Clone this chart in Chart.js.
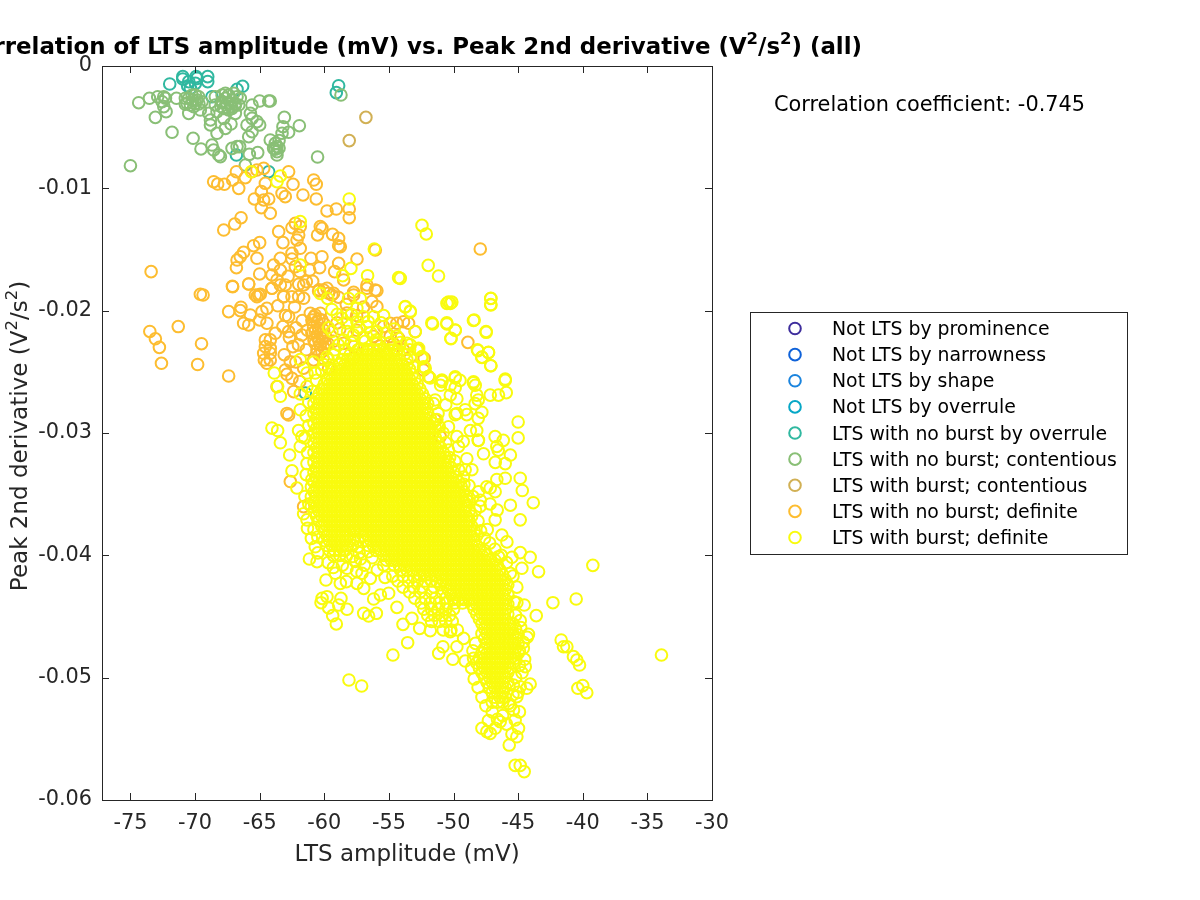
<!DOCTYPE html>
<html>
<head>
<meta charset="utf-8">
<title>LTS amplitude vs peak 2nd derivative</title>
<script src="https://cdn.jsdelivr.net/npm/chart.js@4"></script>
<style>
  html, body { margin: 0; padding: 0; background: #fff; }
  canvas { display: block; }
</style>
</head>
<body>
<canvas id="chart" width="1200" height="900"></canvas>
<script>
/* ── Data ─────────────────────────────────────────── */
const seriesNames = [
  'Not LTS by prominence', 'Not LTS by narrowness', 'Not LTS by shape', 'Not LTS by overrule',
  'LTS with no burst by overrule', 'LTS with no burst; contentious', 'LTS with burst; contentious',
  'LTS with no burst; definite', 'LTS with burst; definite'
];
const xTickValues = [-75, -70, -65, -60, -55, -50, -45, -40, -35, -30];
const yTickValues = [0, -0.01, -0.02, -0.03, -0.04, -0.05, -0.06];

const notProminence = [], notNarrowness = [], notShape = [], notOverrule = [];

const noBurstOverrule = [
  [-70.95,-.00087],[-70.95,-.00106],[-69.92,-.00087],[-69.02,-.00087],[-69.02,-.00128],[-71.96,-.00147],
  [-70.57,-.00163],[-69.97,-.00142],[-70.36,-.00183],[-69.85,-.00101],[-70.49,-.00128],[-66.75,-.00191],
  [-66.32,-.00166],[-68.69,-.00251],[-58.89,-.00161],[-59.07,-.00218],[-66.8,-.00728],[-64.3,-.00864],
  [-61.47,-.02673]
];
const noBurstContentious = [
  [-75,-.00815],[-74.36,-.003],[-73.53,-.00264],[-73.07,-.0042],[-72.89,-.00251],[-72.42,-.00251],[-72.55,-.00292],
  [-72.29,-.00264],[-72.42,-.00332],[-72.24,-.00373],[-71.78,-.00542],[-71.44,-.00264],[-70.75,-.00313],[-70.49,-.00264],
  [-70.36,-.00319],[-70.49,-.00387],[-70.15,-.00591],[-69.97,-.00237],[-69.85,-.00278],[-70.1,-.00332],[-69.59,-.0036],
  [-69.54,-.00678],[-68.94,-.00387],[-68.81,-.00441],[-68.81,-.00482],[-68.69,-.00646],[-68.56,-.00687],[-68.3,-.0055],
  [-68.43,-.00251],[-68.17,-.00728],[-68.04,-.00741],[-67.65,-.00264],[-67.4,-.00237],[-67.53,-.00305],[-67.14,-.00278],
  [-66.75,-.00251],[-66.5,-.00264],[-67.4,-.0036],[-66.88,-.00387],[-67.78,-.00428],[-67.65,-.0051],[-67.22,-.00474],
  [-67.14,-.00673],[-66.75,-.00659],[-66.55,-.00659],[-66.11,-.0081],[-65.8,-.00722],[-65.15,-.00708],[-65.98,-.00482],
  [-65.85,-.00578],[-65.59,-.00537],[-65.59,-.00428],[-65.72,-.00387],[-65.59,-.00319],[-65,-.00286],[-64.3,-.00286],
  [-64.18,-.00286],[-65.21,-.00455],[-65,-.00482],[-63.09,-.0042],[-61.93,-.00488],[-63.2,-.00496],[-62.76,-.00542],
  [-63.27,-.0055],[-64.18,-.00605],[-63.79,-.00632],[-63.66,-.00659],[-63.92,-.00673],[-63.66,-.007],[-63.66,-.00728],
  [-60.52,-.00744],[-58.71,-.00237],[-68,-.0033],[-67.9,-.0029],[-67.2,-.0033],[-66.9,-.0031],[-70.2,-.0028],[-69.7,-.0031],
  [-70.75,-.00264],[-70.23,-.00237],[-69.72,-.00251],[-70.62,-.00305],[-69.97,-.00305],[-69.46,-.00292],[-67.91,-.00237],
  [-67.65,-.00223],[-67.01,-.00223],[-67.91,-.00292],[-67.27,-.00305],[-66.88,-.00319],[-67.78,-.00346],[-67.14,-.00346],
  [-66.62,-.00319],[-68.43,-.00319],[-68.3,-.00373],[-63.5,-.0061],[-63.8,-.0068],[-63.5,-.0067]
];
const burstContentious = [[-56.78,-.0042],[-58.07,-.0061]];

const noBurstDefinite = [
  [-68.56,-.00946],[-68.25,-.00965],[-67.73,-.00967],[-67.09,-.00932],[-66.8,-.00864],[-66.62,-.01],[-66.11,-.00913],
  [-65.59,-.00864],[-65.21,-.0085],[-64.69,-.00837],[-64.56,-.00959],[-62.76,-.00864],[-62.42,-.00967],[-60.82,-.00932],
  [-60.62,-.00967],[-61.65,-.01054],[-60.62,-.01087],[-64.87,-.01027],[-65.41,-.01087],[-64.3,-.01087],[-64.69,-.01095],
  [-64.87,-.01158],[-64.18,-.01204],[-63.27,-.01041],[-63.02,-.01068],[-59.79,-.01185],[-59.07,-.01169],[-66.44,-.0124],
  [-66.93,-.01292],[-67.78,-.01341],[-63.53,-.01354],[-62.5,-.01322],[-62.24,-.01286],[-61.86,-.01313],[-61.98,-.01381],
  [-62.11,-.01422],[-60.31,-.01313],[-60.18,-.01327],[-60.52,-.01381],[-59.36,-.01376],[-58.89,-.01409],[-58.76,-.01477],
  [-58.89,-.01469],[-63.2,-.01444],[-65,-.01444],[-65.47,-.01469],[-66.24,-.01523],[-66.5,-.01559],[-66.75,-.01586],
  [-66.8,-.01649],[-65.21,-.01572],[-61.86,-.0149],[-62.5,-.01531],[-63.4,-.01572],[-63.92,-.01627],[-62.5,-.01578],
  [-62.24,-.0164],[-61.03,-.01572],[-60.18,-.01559],[-61.13,-.01668],[-60.36,-.01649],[-58.89,-.01613],[-57.47,-.01578],
  [-59.2,-.01681],[-58.5,-.01749],[-73.4,-.01681],[-65,-.017],[-64.05,-.01708],[-63.66,-.01749],[-65.85,-.01782],
  [-67.11,-.01801],[-69.59,-.01866],[-63.4,-.0179],[-61.98,-.01785],[-61.39,-.01763],[-64.05,-.01817],[-65.34,-.01872],
  [-64.95,-.01866],[-63.14,-.01886],[-62.5,-.01886],[-61.6,-.01899],[-60.44,-.01839],[-59.79,-.01817],[-59.28,-.01858],
  [-57.73,-.0185],[-56.7,-.0179],[-55.93,-.01837],[-56.05,-.01504],[-66.5,-.02],[-58.07,-.01169],[-58.07,-.0124],
  [-73.5,-.0217],[-73.07,-.0223],[-72.76,-.023],[-72.6,-.0243],[-71.3,-.0213],[-69.5,-.0227],[-69.8,-.0244],
  [-47.93,-.01496],[-48.89,-.02259],
  [-67.09,-.01804],[-65.85,-.01782],[-69.38,-.01872],[-67.4,-.02008],[-66.45,-.01972],[-65.08,-.01872],[-65.21,-.01885],
  [-64.05,-.01817],[-63.15,-.01885],[-63.02,-.0179],[-61.99,-.01885],[-61.6,-.0179],[-64.44,-.01981],[-64.82,-.02008],
  [-65.72,-.02035],[-66.24,-.02103],[-65.85,-.02117],[-65,-.02076],[-64.44,-.02103],[-62.76,-.02049],[-63.79,-.02185],
  [-62.76,-.02171],[-62.43,-.02294],[-61.73,-.02199],[-64.56,-.02239],[-64.18,-.02239],[-64.56,-.02294],[-64.18,-.02308],
  [-64.69,-.02348],[-64.18,-.02348],[-64.64,-.02403],[-64.18,-.02403],[-64.44,-.0243],[-67.4,-.02534],[-62.63,-.02417],
  [-63.02,-.02485],[-62.5,-.02553],[-63.66,-.02621],[-62.37,-.02662],[-62.76,-.02853],[-62.89,-.0284],[-62.63,-.03397],
  [-61.6,-.03602],
  [-61.08,-.02021],[-60.7,-.02035],[-60.31,-.02021],[-60.96,-.02076],[-60.57,-.0209],[-60.18,-.02076],[-60.83,-.02131],
  [-60.44,-.02144],[-60.05,-.02158],[-60.96,-.02185],[-60.57,-.02212],[-60.18,-.02226],[-60.7,-.02267],[-60.31,-.0228],
  [-59.93,-.02267],[-60.57,-.02321],[-60.18,-.02335],[-60.8,-.0205],[-60.4,-.0207],[-60,-.0211],[-60.7,-.0217],
  [-60.3,-.0219],[-59.9,-.0221],[-60.8,-.0224],[-60.4,-.0225],[-60,-.0231],[-59.7,-.0227],[-60.4,-.0236],[-60.1,-.0239],
  [-59.67,-.01858],[-60.05,-.01831],[-59.41,-.01872],[-57.73,-.01872],[-56.7,-.01817],[-56.06,-.01831],[-56.32,-.01926],
  [-55.93,-.01967],[-54.9,-.02103],[-54.38,-.02103],[-53.87,-.0209],[-53.48,-.02103],[-52.97,-.02171],[-54.25,-.02226],
  [-52.71,-.02321],[-52.27,-.02389],[-52.32,-.02485],[-51.94,-.02539],[-58.51,-.02267],[-57.73,-.02294],[-57.73,-.02389],
  [-59.67,-.0247],[-60.83,-.02403],[-51.42,-.02893],[-51.03,-.0303],
  [-57.48,-.0216],[-56.19,-.0221],[-59.02,-.021],[-58.25,-.0202],[-56.96,-.0197],[-55.41,-.0213],[-54.9,-.0221],
  [-56.7,-.0232],[-55.67,-.0229],[-54.64,-.0227],[-53.87,-.0232],[-53.35,-.0238],
  [-63.6,-.0196],[-63,-.0204],[-62.3,-.0197],[-61.7,-.0208],[-62.2,-.0214],[-61.3,-.0216],[-63.2,-.0213],[-62.7,-.0222],
  [-62,-.0228],[-61.4,-.0232],[-63.1,-.0236],[-62.2,-.0242],[-61.6,-.0247],[-62.9,-.0252],[-61.9,-.0258],[-63.4,-.0167],
  [-62.8,-.0172],[-61.9,-.0168],[-60.9,-.0176],[-60.4,-.0183],[-58.9,-.0189],[-58.3,-.0195],[-57.5,-.0204],[-58.8,-.0215],
  [-59.3,-.0225]
];

// burst; definite: the points that can be told apart at the rim and in the sparse parts
const burstDefiniteRim = [
  [-65.65,-.00864],[-63.66,-.00946],[-63.4,-.00899],[-58.07,-.01087],[-61.86,-.01272],[-61.86,-.01627],[-56.13,-.01496],
  [-58.58,-.01714],[-57.94,-.01654],[-56.65,-.01714],[-54.25,-.0173],
  [-52.44,-.01303],[-52.11,-.01373],[-51.96,-.0163],[-51.16,-.01717],[-54.12,-.01736],[-50.51,-.0194],[-50.25,-.0194],
  [-47.11,-.01899],[-47.11,-.01954],[-48.4,-.02076],[-51.62,-.02109],[-50.51,-.02109],[-49.87,-.02158],[-50.2,-.02226],
  [-47.47,-.02177],[-48.11,-.02327],[-47.29,-.02343],[-47.8,-.02382],[-47.11,-.0245],[-46,-.02559],[-49.87,-.0254],
  [-48.45,-.02581],[-50.9,-.02567],[-53.73,-.01967],[-53.35,-.02003],[-52.96,-.02172],[-52.7,-.02308],[-52.44,-.02376],
  [-52.32,-.02458],[-51.93,-.0254],[-53.6,-.02267],
  [-60.31,-.0186],[-59.74,-.019],[-59.41,-.0199],[-58.64,-.0206],[-58.12,-.019],[-57.22,-.019],[-57.48,-.0198],
  [-56.96,-.0205],[-56.19,-.0205],[-55.41,-.0204],[-53.74,-.0197],[-53.35,-.0201],[-51.68,-.021],[-50.52,-.021],
  [-49.87,-.0216],[-50.2,-.0223],[-48.46,-.0208],[-47.48,-.0217],[-50.39,-.0193],[-50.13,-.0193],[-47.12,-.019],
  [-47.12,-.0195],[-48.15,-.0232],[-47.3,-.0234],[-47.81,-.0238],[-47.12,-.0245],[-59.67,-.0214],[-59.41,-.0217],
  [-58.51,-.0224],[-55.93,-.0217],[-54.38,-.0221],[-53.35,-.0228],[-52.84,-.0232],[-52.45,-.0239],[-52.19,-.0247],
  [-51.81,-.0255],[-50.9,-.0258],[-49.87,-.0255],[-50.26,-.0261],[-49.87,-.0263],[-48.46,-.0259],[-48.2,-.0269],
  [-49.74,-.0272],[-48.33,-.0276],[-47.81,-.0283],[-49.74,-.0284],[-48.97,-.0285],[-51.42,-.0273],[-51.55,-.0276],
  [-51.29,-.0289],[-50.39,-.0295],[-49.74,-.0303],[-48.2,-.0298],[-46.78,-.0303],[-48.07,-.0306],[-50.39,-.0314],
  [-49.62,-.0311],[-47.68,-.0317],[-48.97,-.0321],[-49.1,-.033],[-48.58,-.033],[-49.23,-.0336],[-48.97,-.0355],
  [-48.07,-.0348],[-47.43,-.0344],[-46.78,-.0348],[-46.65,-.0338],[-47.94,-.036],[-47.17,-.0358],[-46.78,-.0371],
  [-46.65,-.0311],[-46.52,-.0269],
  [-63.87,-.0251],[-63.61,-.0262],[-63.4,-.027],[-64.05,-.0296],[-63.61,-.0298],[-63.4,-.0308],[-62.68,-.0318],
  [-62.5,-.0331],[-62.12,-.0345],[-61.86,-.0281],[-61.99,-.0298],[-61.73,-.0303],[-61.86,-.0268],[-61.34,-.0251],
  [-60.7,-.0251],[-60.83,-.0242],[-61.86,-.024],[-59.8,-.0238],[-61.34,-.0262],[-61.6,-.0366],[-61.34,-.0371],
  [-60.96,-.0338],[-61.34,-.0325],[-61.86,-.0311],
  [-58.25,-.021],[-57.48,-.0209],[-56.7,-.0213],[-57.73,-.022],[-56.83,-.0225],[-55.93,-.0227],[-55.16,-.0235],
  [-54.38,-.0233],[-53.61,-.024],[-53.1,-.0246],[-58.77,-.0243],[-60.05,-.0244],[-59.28,-.0236],
  [-45,-.0291],[-46,-.0257],[-45.92,-.0267],[-44.84,-.0337],[-44.68,-.0347],[-43.83,-.0357],[-45.6,-.0318],[-46,-.0325],
  [-46.15,-.0306],[-45,-.0304],[-46,-.0337],[-45.6,-.0359],[-46.54,-.0314],[-46.77,-.0324],[-47.16,-.0345],[-47.93,-.0355],
  [-46.62,-.0363],[-44.84,-.0371],[-47.39,-.0379],[-48.09,-.0273],[-47.16,-.0269],[-48.32,-.0261],[-49.1,-.0281],
  [-48.09,-.0288],[-48.7,-.0298],[-49.25,-.0307],[-48.09,-.0306],[-49.87,-.0285],[-50.25,-.0269],[-49.5,-.0257],
  [-51,-.0261],[-50.6,-.0277],
  [-61,-.03861],[-61.15,-.0403],[-60.56,-.04052],[-59.87,-.04202],[-59.14,-.04147],[-58.24,-.04106],[-58.76,-.04229],
  [-58.29,-.04215],[-60.17,-.04352],[-59.79,-.04338],[-60.25,-.04387],[-59.66,-.0443],[-58.71,-.04352],[-58.89,-.04406],
  [-58.24,-.04441],[-59.35,-.04493],[-59.07,-.04561],[-57.08,-.04147],[-57.47,-.04229],[-56.95,-.0427],[-56.44,-.04188],
  [-56.18,-.04357],[-55.66,-.04324],[-55.02,-.0431],[-56.95,-.04474],[-56.57,-.04496],[-55.97,-.04474],[-54.38,-.04425],
  [-53.91,-.04564],[-53.22,-.04515],[-52.62,-.04597],[-51.8,-.04616],[-53.55,-.04714],[-54.69,-.04815],[-51.15,-.04801],
  [-50.82,-.04747],[-50.05,-.0485],[-49.74,-.04747],[-49.22,-.04679],[-50.25,-.04624],[-49.09,-.04864],[-48.45,-.04842],
  [-58.09,-.05019],[-57.11,-.05068],[-39.22,-.04082],[-43.42,-.04134],[-44.07,-.04016],[-44.84,-.03978],[-45.48,-.04016],
  [-44.71,-.04106],[-45.87,-.0389],[-46.26,-.03834],[-46.52,-.04011],[-45.61,-.04147],[-45.1,-.04387],[-44.53,-.04406],
  [-42.31,-.04387],[-40.51,-.04357],[-43.6,-.04493],[-44.84,-.04534],[-44.2,-.04646],[-41.67,-.04692],[-41.23,-.04747],
  [-41.49,-.04747],[-40.72,-.04828],[-40.46,-.04856],[-40.25,-.04897],[-40.38,-.05087],[-40,-.05065],[-39.69,-.05123],
  [-33.91,-.04815],[-44.45,-.0491],[-44.07,-.05052],[-44.33,-.05087],[-44.84,-.05074],[-45.36,-.0506],[-45.1,-.05155],
  [-45.74,-.0521],[-45.36,-.05264],[-45.23,-.05346],[-44.97,-.05414],[-45.1,-.05483],[-45.48,-.0546],[-45.69,-.05551],
  [-45.23,-.05717],[-44.84,-.05717],[-44.53,-.05768],[-47.8,-.05414],[-47.16,-.05455],[-47.42,-.05441],[-46.77,-.05414],
  [-46.39,-.0536],
  [-54.1,-.0412],[-54.7,-.0417],[-53.9,-.0417],[-53.1,-.0417],[-54.3,-.0421],[-53.5,-.0421],[-52.8,-.0421],[-52.2,-.0421],
  [-51.7,-.0421],[-51.3,-.0421],[-53.9,-.0426],[-53.1,-.0426],[-52.4,-.0426],[-51.5,-.0426],[-53.4,-.043],[-52.6,-.043],
  [-51.7,-.043],[-50.9,-.043],[-53,-.0435],[-52.2,-.0435],[-51.4,-.0435],[-50.6,-.0435],[-52.5,-.0439],[-51.8,-.0439],
  [-51.1,-.0439],[-50.5,-.0439],[-49.9,-.0439],[-49.3,-.0439],[-52.3,-.0444],[-51.7,-.0444],[-51.2,-.0444],[-50.6,-.0444],
  [-50,-.0444],[-52,-.0449],[-51.5,-.0449],[-50.9,-.0449],[-50.3,-.0449],[-51.7,-.0454],[-51.1,-.0454],[-50.6,-.0454],
  [-50.1,-.0454],[-50.8,-.0461],[-50.2,-.0461],[-49.7,-.0461],
  [-45,-.0465],[-44.6,-.0471],[-44.9,-.0478],[-44.5,-.0485],[-44.7,-.0496],[-44.3,-.0467],[-45,-.0512],[-44.9,-.0528],
  [-57.8,-.0392],[-57.3,-.0398],[-57.6,-.0405],[-56.9,-.0408],[-56.3,-.0402],[-55.9,-.0412],[-55.4,-.0408],[-55.3,-.0418],
  [-58.9,-.0228],[-58.2,-.0217],[-57.9,-.0226],[-57.3,-.0214],[-57,-.0222],[-56.6,-.0209],[-56.4,-.0218],[-56,-.0224],
  [-55.6,-.021],[-55.2,-.0218],[-54.9,-.0226],[-54.6,-.0215],[-54.1,-.0226],[-53.8,-.0236],[-53.4,-.0232],[-58.4,-.0232],
  [-59.2,-.0232],[-59.7,-.024],[-60.2,-.0249],[-60.6,-.0257],[-60.9,-.0266],[-59,-.0203],[-57.9,-.0203],
  [-61.2,-.0275],[-61.4,-.0286],[-61.2,-.0294],[-61.5,-.0304],[-61.3,-.0316],[-61.4,-.0334],[-61.5,-.0352],[-61.2,-.0358],
  [-61.3,-.0378],[-60.8,-.0379],[-60.5,-.0385],[-60.7,-.0393],[-60.5,-.0398],
  [-59.3,-.04],[-58.8,-.04],[-58.3,-.0401],[-59.7,-.0406],[-58.6,-.0408],[-57.8,-.0401],[-57.5,-.0413],[-59.3,-.041],
  [-57.2,-.0403],[-56.6,-.0397],[-57.4,-.0388],[-57.7,-.038],[-57.7,-.0387],[-57.4,-.0393],
  [-51.2,-.0284],[-51.1,-.0295],[-50.8,-.03],[-50.6,-.0308],[-50.3,-.032],[-49.9,-.0323],[-49.6,-.033],[-49.2,-.0342],
  [-48.8,-.0343],[-48.5,-.0352],[-48.3,-.0363],[-48.1,-.0372],[-47.9,-.038],[-47.6,-.0386],[-47.2,-.039],[-46.8,-.0395],
  [-46.3,-.04],[-45.9,-.0406],[-45.4,-.0417],[-45.1,-.0426],[-45.3,-.0438],[-45.2,-.0449],
  [-48.3,-.0472],[-48.5,-.0478],[-48.6,-.0492],[-48.4,-.0501],[-48.1,-.0508],[-47.8,-.0516],[-47.5,-.0523],[-44.8,-.0459],
  [-44.6,-.0476],[-44.9,-.049],[-45.2,-.05],[-45.4,-.0514],[-45.6,-.0523],[-47,-.0528],[-46.6,-.0534],[-46.2,-.0531],
  [-45.9,-.0538],[-47.3,-.0535]
];

// the solid part of the cloud, where single circles cannot be told apart: one y, then the x values along it
const burstDefiniteRows = [
  [-.0232,[-57.4,-57,-56.6,-56.2,-55.8,-55.4,-55,-54.6]],
  [-.0236,[-58,-57.6,-57.2,-56.8,-56.4,-56,-55.6,-55.2,-54.8,-54.4]],
  [-.024,[-58.6,-58.2,-57.8,-57.4,-57,-56.6,-56.2,-55.8,-55.4,-55,-54.6,-54.2]],
  [-.0244,[-58.8,-58.4,-58,-57.6,-57.2,-56.8,-56.4,-56,-55.6,-55.2,-54.8,-54.4,-54,-53.6]],
  [-.0248,[-59.4,-59,-58.6,-58.2,-57.8,-57.4,-57,-56.6,-56.2,-55.8,-55.4,-55,-54.6,-54.2,-53.8,-53.4]],
  [-.0252,[-59.6,-59.2,-58.8,-58.4,-58,-57.6,-57.2,-56.8,-56.4,-56,-55.6,-55.2,-54.8,-54.4,-54,-53.6,-53.2]],
  [-.0256,[-59.8,-59.4,-59,-58.6,-58.2,-57.8,-57.4,-57,-56.6,-56.2,-55.8,-55.4,-55,-54.6,-54.2,-53.8,-53.4,-53]],
  [-.026,[-60,-59.6,-59.2,-58.8,-58.4,-58,-57.6,-57.2,-56.8,-56.4,-56,-55.6,-55.2,-54.8,-54.4,-54,-53.6,-53.2,-52.8]],
  [-.0264,[-60.2,-59.8,-59.4,-59,-58.6,-58.2,-57.8,-57.4,-57,-56.6,-56.2,-55.8,-55.4,-55,-54.6,-54.2,-53.8,-53.4,-53,-52.6]],
  [-.0268,[-60.4,-60,-59.6,-59.2,-58.8,-58.4,-58,-57.6,-57.2,-56.8,-56.4,-56,-55.6,-55.2,-54.8,-54.4,-54,-53.6,-53.2,-52.8,-52.4]],
  [-.0272,[-60.6,-60.2,-59.8,-59.4,-59,-58.6,-58.2,-57.8,-57.4,-57,-56.6,-56.2,-55.8,-55.4,-55,-54.6,-54.2,-53.8,-53.4,-53,-52.6,-52.2]],
  [-.0276,[-60.8,-60.4,-60,-59.6,-59.2,-58.8,-58.4,-58,-57.6,-57.2,-56.8,-56.4,-56,-55.6,-55.2,-54.8,-54.4,-54,-53.6,-53.2,-52.8,-52.4,-52]],
  [-.028,[-60.6,-60.2,-59.8,-59.4,-59,-58.6,-58.2,-57.8,-57.4,-57,-56.6,-56.2,-55.8,-55.4,-55,-54.6,-54.2,-53.8,-53.4,-53,-52.6,-52.2]],
  [-.0284,[-60.8,-60.4,-60,-59.6,-59.2,-58.8,-58.4,-58,-57.6,-57.2,-56.8,-56.4,-56,-55.6,-55.2,-54.8,-54.4,-54,-53.6,-53.2,-52.8,-52.4,-52]],
  [-.0288,[-60.6,-60.2,-59.8,-59.4,-59,-58.6,-58.2,-57.8,-57.4,-57,-56.6,-56.2,-55.8,-55.4,-55,-54.6,-54.2,-53.8,-53.4,-53,-52.6,-52.2,-51.8]],
  [-.0292,[-60.8,-60.4,-60,-59.6,-59.2,-58.8,-58.4,-58,-57.6,-57.2,-56.8,-56.4,-56,-55.6,-55.2,-54.8,-54.4,-54,-53.6,-53.2,-52.8,-52.4,-52,-51.6]],
  [-.0296,[-60.6,-60.2,-59.8,-59.4,-59,-58.6,-58.2,-57.8,-57.4,-57,-56.6,-56.2,-55.8,-55.4,-55,-54.6,-54.2,-53.8,-53.4,-53,-52.6,-52.2,-51.8,-51.4]],
  [-.03,[-60.8,-60.4,-60,-59.6,-59.2,-58.8,-58.4,-58,-57.6,-57.2,-56.8,-56.4,-56,-55.6,-55.2,-54.8,-54.4,-54,-53.6,-53.2,-52.8,-52.4,-52,-51.6]],
  [-.0304,[-60.6,-60.2,-59.8,-59.4,-59,-58.6,-58.2,-57.8,-57.4,-57,-56.6,-56.2,-55.8,-55.4,-55,-54.6,-54.2,-53.8,-53.4,-53,-52.6,-52.2,-51.8,-51.4]],
  [-.0308,[-60.8,-60.4,-60,-59.6,-59.2,-58.8,-58.4,-58,-57.6,-57.2,-56.8,-56.4,-56,-55.6,-55.2,-54.8,-54.4,-54,-53.6,-53.2,-52.8,-52.4,-52,-51.6,-51.2]],
  [-.0312,[-60.6,-60.2,-59.8,-59.4,-59,-58.6,-58.2,-57.8,-57.4,-57,-56.6,-56.2,-55.8,-55.4,-55,-54.6,-54.2,-53.8,-53.4,-53,-52.6,-52.2,-51.8,-51.4,-51]],
  [-.0316,[-60.8,-60.4,-60,-59.6,-59.2,-58.8,-58.4,-58,-57.6,-57.2,-56.8,-56.4,-56,-55.6,-55.2,-54.8,-54.4,-54,-53.6,-53.2,-52.8,-52.4,-52,-51.6,-51.2,-50.8]],
  [-.032,[-60.6,-60.2,-59.8,-59.4,-59,-58.6,-58.2,-57.8,-57.4,-57,-56.6,-56.2,-55.8,-55.4,-55,-54.6,-54.2,-53.8,-53.4,-53,-52.6,-52.2,-51.8,-51.4,-51,-50.6]],
  [-.0324,[-60.8,-60.4,-60,-59.6,-59.2,-58.8,-58.4,-58,-57.6,-57.2,-56.8,-56.4,-56,-55.6,-55.2,-54.8,-54.4,-54,-53.6,-53.2,-52.8,-52.4,-52,-51.6,-51.2,-50.8,-50.4]],
  [-.0328,[-60.6,-60.2,-59.8,-59.4,-59,-58.6,-58.2,-57.8,-57.4,-57,-56.6,-56.2,-55.8,-55.4,-55,-54.6,-54.2,-53.8,-53.4,-53,-52.6,-52.2,-51.8,-51.4,-51,-50.6,-50.2]],
  [-.0332,[-60.8,-60.4,-60,-59.6,-59.2,-58.8,-58.4,-58,-57.6,-57.2,-56.8,-56.4,-56,-55.6,-55.2,-54.8,-54.4,-54,-53.6,-53.2,-52.8,-52.4,-52,-51.6,-51.2,-50.8,-50.4,-50]],
  [-.0336,[-60.6,-60.2,-59.8,-59.4,-59,-58.6,-58.2,-57.8,-57.4,-57,-56.6,-56.2,-55.8,-55.4,-55,-54.6,-54.2,-53.8,-53.4,-53,-52.6,-52.2,-51.8,-51.4,-51,-50.6,-50.2,-49.8]],
  [-.034,[-60.8,-60.4,-60,-59.6,-59.2,-58.8,-58.4,-58,-57.6,-57.2,-56.8,-56.4,-56,-55.6,-55.2,-54.8,-54.4,-54,-53.6,-53.2,-52.8,-52.4,-52,-51.6,-51.2,-50.8,-50.4,-50,-49.6]],
  [-.0344,[-61,-60.6,-60.2,-59.8,-59.4,-59,-58.6,-58.2,-57.8,-57.4,-57,-56.6,-56.2,-55.8,-55.4,-55,-54.6,-54.2,-53.8,-53.4,-53,-52.6,-52.2,-51.8,-51.4,-51,-50.6,-50.2,-49.8,-49.4]],
  [-.0348,[-60.8,-60.4,-60,-59.6,-59.2,-58.8,-58.4,-58,-57.6,-57.2,-56.8,-56.4,-56,-55.6,-55.2,-54.8,-54.4,-54,-53.6,-53.2,-52.8,-52.4,-52,-51.6,-51.2,-50.8,-50.4,-50,-49.6,-49.2]],
  [-.0352,[-61,-60.6,-60.2,-59.8,-59.4,-59,-58.6,-58.2,-57.8,-57.4,-57,-56.6,-56.2,-55.8,-55.4,-55,-54.6,-54.2,-53.8,-53.4,-53,-52.6,-52.2,-51.8,-51.4,-51,-50.6,-50.2,-49.8,-49.4,-49]],
  [-.0356,[-60.8,-60.4,-60,-59.6,-59.2,-58.8,-58.4,-58,-57.6,-57.2,-56.8,-56.4,-56,-55.6,-55.2,-54.8,-54.4,-54,-53.6,-53.2,-52.8,-52.4,-52,-51.6,-51.2,-50.8,-50.4,-50,-49.6,-49.2,-48.8]],
  [-.036,[-61,-60.6,-60.2,-59.8,-59.4,-59,-58.6,-58.2,-57.8,-57.4,-57,-56.6,-56.2,-55.8,-55.4,-55,-54.6,-54.2,-53.8,-53.4,-53,-52.6,-52.2,-51.8,-51.4,-51,-50.6,-50.2,-49.8,-49.4,-49]],
  [-.0364,[-60.8,-60.4,-60,-59.6,-59.2,-58.8,-58.4,-58,-57.6,-57.2,-56.8,-56.4,-56,-55.6,-55.2,-54.8,-54.4,-54,-53.6,-53.2,-52.8,-52.4,-52,-51.6,-51.2,-50.8,-50.4,-50,-49.6,-49.2,-48.8]],
  [-.0368,[-60.6,-60.2,-59.8,-59.4,-59,-58.6,-58.2,-57.8,-57.4,-57,-56.6,-56.2,-55.8,-55.4,-55,-54.6,-54.2,-53.8,-53.4,-53,-52.6,-52.2,-51.8,-51.4,-51,-50.6,-50.2,-49.8,-49.4,-49,-48.6]],
  [-.0372,[-60.4,-60,-59.6,-59.2,-58.8,-58.4,-58,-57.6,-57.2,-56.8,-56.4,-56,-55.6,-55.2,-54.8,-54.4,-54,-53.6,-53.2,-52.8,-52.4,-52,-51.6,-51.2,-50.8,-50.4,-50,-49.6,-49.2,-48.8]],
  [-.0376,[-60.2,-59.8,-59.4,-59,-58.6,-58.2,-57.8,-57.4,-57,-56.6,-56.2,-55.8,-55.4,-55,-54.6,-54.2,-53.8,-53.4,-53,-52.6,-52.2,-51.8,-51.4,-51,-50.6,-50.2,-49.8,-49.4,-49,-48.6]],
  [-.038,[-60,-59.6,-59.2,-58.8,-58.4,-58,-57.6,-57.2,-56.8,-56.4,-56,-55.6,-55.2,-54.8,-54.4,-54,-53.6,-53.2,-52.8,-52.4,-52,-51.6,-51.2,-50.8,-50.4,-50,-49.6,-49.2,-48.8,-48.4]],
  [-.0384,[-59.8,-59.4,-59,-58.6,-58.2,-57,-56.6,-56.2,-55.8,-55.4,-55,-54.6,-54.2,-53.8,-53.4,-53,-52.6,-52.2,-51.8,-51.4,-51,-50.6,-50.2,-49.8,-49.4,-49,-48.6,-48.2]],
  [-.0388,[-60,-59.6,-59.2,-58.8,-58.4,-58,-56.8,-56.4,-56,-55.6,-55.2,-54.8,-54.4,-54,-53.6,-53.2,-52.8,-52.4,-52,-51.6,-51.2,-50.8,-50.4,-50,-49.6,-49.2,-48.8,-48.4]],
  [-.0392,[-59.8,-59.4,-59,-58.6,-58.2,-56.6,-56.2,-55.8,-55.4,-55,-54.6,-54.2,-53.8,-53.4,-53,-52.6,-52.2,-51.8,-51.4,-51,-50.6,-50.2,-49.8,-49.4,-49,-48.6,-48.2]],
  [-.0396,[-59.6,-59.2,-58.8,-58.4,-56,-55.6,-55.2,-54.8,-54.4,-54,-53.6,-53.2,-52.8,-52.4,-52,-51.6,-51.2,-50.8,-50.4,-50,-49.6,-49.2,-48.8,-48.4,-48,-47.6]],
  [-.04,[-55.4,-55,-54.6,-54.2,-53.8,-53.4,-53,-52.6,-52.2,-51.8,-51.4,-51,-50.6,-50.2,-49.8,-49.4,-49,-48.6,-48.2,-47.8,-47.4]],
  [-.0404,[-55.2,-54.8,-54.4,-54,-53.6,-53.2,-52.8,-52.4,-52,-51.6,-51.2,-50.8,-50.4,-50,-49.6,-49.2,-48.8,-48.4,-48,-47.6,-47.2,-46.8]],
  [-.0408,[-54.6,-54.2,-53.8,-53.4,-53,-52.6,-52.2,-51.8,-51.4,-51,-50.6,-50.2,-49.8,-49.4,-49,-48.6,-48.2,-47.8,-47.4,-47,-46.6]],
  [-.0412,[-53.6,-53.2,-52.8,-52.4,-52,-51.6,-51.2,-50.8,-50.4,-50,-49.6,-49.2,-48.8,-48.4,-48,-47.6,-47.2,-46.8,-46.4]],
  [-.0416,[-52.6,-52.2,-51.8,-51.4,-51,-50.6,-50.2,-49.8,-49.4,-49,-48.6,-48.2,-47.8,-47.4,-47,-46.6,-46.2]],
  [-.042,[-50.8,-50.4,-50,-49.6,-49.2,-48.8,-48.4,-48,-47.6,-47.2,-46.8,-46.4,-46]],
  [-.0424,[-51,-50.6,-50.2,-49.8,-49.4,-49,-48.6,-48.2,-47.8,-47.4,-47,-46.6,-46.2,-45.8]],
  [-.0428,[-50.4,-50,-49.6,-49.2,-48.8,-48.4,-48,-47.6,-47.2,-46.8,-46.4,-46]],
  [-.0432,[-50.2,-49.8,-49.4,-49,-48.6,-48.2,-47.8,-47.4,-47,-46.6,-46.2,-45.8]],
  [-.0436,[-50,-49.6,-49.2,-48.8,-48.4,-48,-47.6,-47.2,-46.8,-46.4,-46]],
  [-.044,[-48.6,-48.2,-47.8,-47.4,-47,-46.6,-46.2,-45.8]],
  [-.0444,[-48.4,-48,-47.6,-47.2,-46.8,-46.4,-46]],
  [-.0448,[-48.2,-47.8,-47.4,-47,-46.6,-46.2,-45.8]],
  [-.0452,[-48,-47.6,-47.2,-46.8,-46.4,-46]],
  [-.0456,[-47.8,-47.4,-47,-46.6,-46.2,-45.8,-45.4]],
  [-.046,[-47.6,-47.2,-46.8,-46.4,-46,-45.6,-45.2]],
  [-.0464,[-47.8,-47.4,-47,-46.6,-46.2,-45.8,-45.4]],
  [-.0468,[-47.6,-47.2,-46.8,-46.4,-46,-45.6,-45.2]],
  [-.0472,[-47.4,-47,-46.6,-46.2,-45.8,-45.4,-45]],
  [-.0476,[-47.6,-47.2,-46.8,-46.4,-46,-45.6,-45.2]],
  [-.048,[-47.8,-47.4,-47,-46.6,-46.2,-45.8,-45.4,-45]],
  [-.0484,[-48,-47.6,-47.2,-46.8,-46.4,-46,-45.6,-45.2]],
  [-.0488,[-48.2,-47.8,-47.4,-47,-46.6,-46.2,-45.8,-45.4]],
  [-.0492,[-48,-47.6,-47.2,-46.8,-46.4,-46,-45.6]],
  [-.0496,[-47.8,-47.4,-47,-46.6,-46.2,-45.8]],
  [-.05,[-47.6,-47.2,-46.8,-46.4,-46]],
  [-.0504,[-47.4,-47,-46.6,-46.2,-45.8]],
  [-.0508,[-47.2,-46.8,-46.4,-46]],
  [-.0512,[-47,-46.6,-46.2]],
  [-.0516,[-46.8,-46.4,-46]],
  [-.052,[-47,-46.6,-46.2]]
];
const burstDefinite = burstDefiniteRim.concat(
  burstDefiniteRows.flatMap(([y, xs]) => xs.map(x => [x, y]))
);

const correlationText = 'Correlation coefficient: -0.745';
const titleParts = ['Correlation of LTS amplitude (mV) vs. Peak 2nd derivative (V', '^2', '/s', '^2', ') (all)'];
const yLabelParts = ['Peak 2nd derivative (V', '^2', '/s', '^2', ')'];

const seriesValues = [notProminence, notNarrowness, notShape, notOverrule, noBurstOverrule,
  noBurstContentious, burstContentious, noBurstDefinite, burstDefinite];
const seriesColors = ['#3e2d9c', '#0f62d9', '#1a84de', '#06a7c6', '#30b8a0', '#89bf76', '#d1b054', '#fdbd30', '#f9fb0e'];

/* ── Helpers ──────────────────────────────────────── */
const FONT = '"DejaVu Sans"';
const INK = '#262626';

// text with ^superscripts, drawn left to right from x
function drawParts(ctx, parts, x, y, size, weight, measureOnly) {
  let w = 0;
  parts.forEach(p => {
    const sup = p[0] === '^';
    const s = sup ? size * 0.72 : size;
    const t = sup ? p.slice(1) : p;
    ctx.font = `${weight} ${s}px ${FONT}`;
    if (!measureOnly) ctx.fillText(t, x + w, sup ? y - size * 0.42 : y);
    w += ctx.measureText(t).width;
  });
  return w;
}

/* ── Frame, title, note and legend ────────────────── */
const matlabFrame = {
  id: 'matlabFrame',
  afterDatasetsDraw(chart) {
    const { ctx, chartArea: a, scales } = chart;
    ctx.save();
    ctx.strokeStyle = INK;
    ctx.lineWidth = 1;
    ctx.strokeRect(a.left + .5, a.top + .5, a.right - a.left, a.bottom - a.top);
    ctx.beginPath();
    xTickValues.forEach(v => {
      const x = Math.round(scales.x.getPixelForValue(v)) + .5;
      ctx.moveTo(x, a.bottom); ctx.lineTo(x, a.bottom - 7);
      ctx.moveTo(x, a.top); ctx.lineTo(x, a.top + 7);
    });
    yTickValues.forEach(v => {
      const y = Math.round(scales.y.getPixelForValue(v)) + .5;
      ctx.moveTo(a.left, y); ctx.lineTo(a.left + 7, y);
      ctx.moveTo(a.right, y); ctx.lineTo(a.right - 7, y);
    });
    ctx.stroke();
    ctx.restore();
  },
  afterDraw(chart) {
    const { ctx } = chart;
    ctx.save();
    ctx.textAlign = 'left';
    ctx.textBaseline = 'alphabetic';

    // title, runs off the left edge like the original
    ctx.fillStyle = '#000';
    const tw = drawParts(ctx, titleParts, 0, 0, 22.9, 'bold', true);
    drawParts(ctx, titleParts, 862 - tw, 54, 22.9, 'bold');

    // y label
    ctx.fillStyle = INK;
    const yw = drawParts(ctx, yLabelParts, 0, 0, 23, 'normal', true);
    ctx.save();
    ctx.translate(27, 436 + yw / 2);
    ctx.rotate(-Math.PI / 2);
    drawParts(ctx, yLabelParts, 0, 0, 23, 'normal');
    ctx.restore();

    // correlation note
    ctx.fillStyle = '#000';
    ctx.font = `20.85px ${FONT}`;
    ctx.fillText(correlationText, 774, 111);

    // legend box
    ctx.strokeStyle = INK;
    ctx.lineWidth = 1;
    ctx.strokeRect(750.5, 312.5, 377, 242);
    ctx.font = `18.87px ${FONT}`;
    seriesNames.forEach((name, i) => {
      const y = 328.5 + i * 26.13;
      ctx.strokeStyle = seriesColors[i];
      ctx.lineWidth = 2;
      ctx.beginPath();
      ctx.arc(795, y, 5.8, 0, Math.PI * 2);
      ctx.stroke();
      ctx.fillStyle = '#000';
      ctx.fillText(name, 832, y + 6.5);
    });
    ctx.restore();
  }
};

/* ── Chart ────────────────────────────────────────── */
new Chart(document.getElementById('chart').getContext('2d'), {
  type: 'scatter',
  data: {
    datasets: seriesNames.map((name, i) => ({
      label: name,
      data: seriesValues[i].map(([x, y]) => ({ x, y })),
      borderColor: seriesColors[i],
      backgroundColor: 'transparent',
      pointStyle: 'circle',
      pointRadius: 5.8,
      pointBorderWidth: 2,
      order: seriesNames.length - i
    }))
  },
  options: {
    responsive: false,
    animation: false,
    layout: { padding: { left: 0, top: 66, right: 488, bottom: 30 } },
    plugins: { legend: { display: false }, tooltip: { enabled: false }, title: { display: false } },
    scales: {
      x: {
        type: 'linear', min: -77.2, max: -30,
        afterBuildTicks: s => { s.ticks = xTickValues.map(value => ({ value })); },
        afterFit: s => { s.height = 70; },
        grid: { display: false },
        border: { display: false },
        ticks: { color: INK, font: { family: FONT, size: 20.8 }, padding: 3, maxRotation: 0, autoSkip: false },
        title: { display: true, text: 'LTS amplitude (mV)', color: INK, font: { family: FONT, size: 23 }, padding: { top: 5, bottom: 1 } }
      },
      y: {
        type: 'linear', min: -0.06, max: 0,
        afterBuildTicks: s => { s.ticks = yTickValues.map(value => ({ value })); },
        afterFit: s => { s.width = 102; },
        grid: { display: false },
        border: { display: false },
        ticks: {
          color: INK, font: { family: FONT, size: 20.8 }, padding: 2, autoSkip: false,
          callback: v => v === 0 ? '0' : v.toFixed(2)
        }
      }
    }
  },
  plugins: [matlabFrame]
});
</script>
</body>
</html>
